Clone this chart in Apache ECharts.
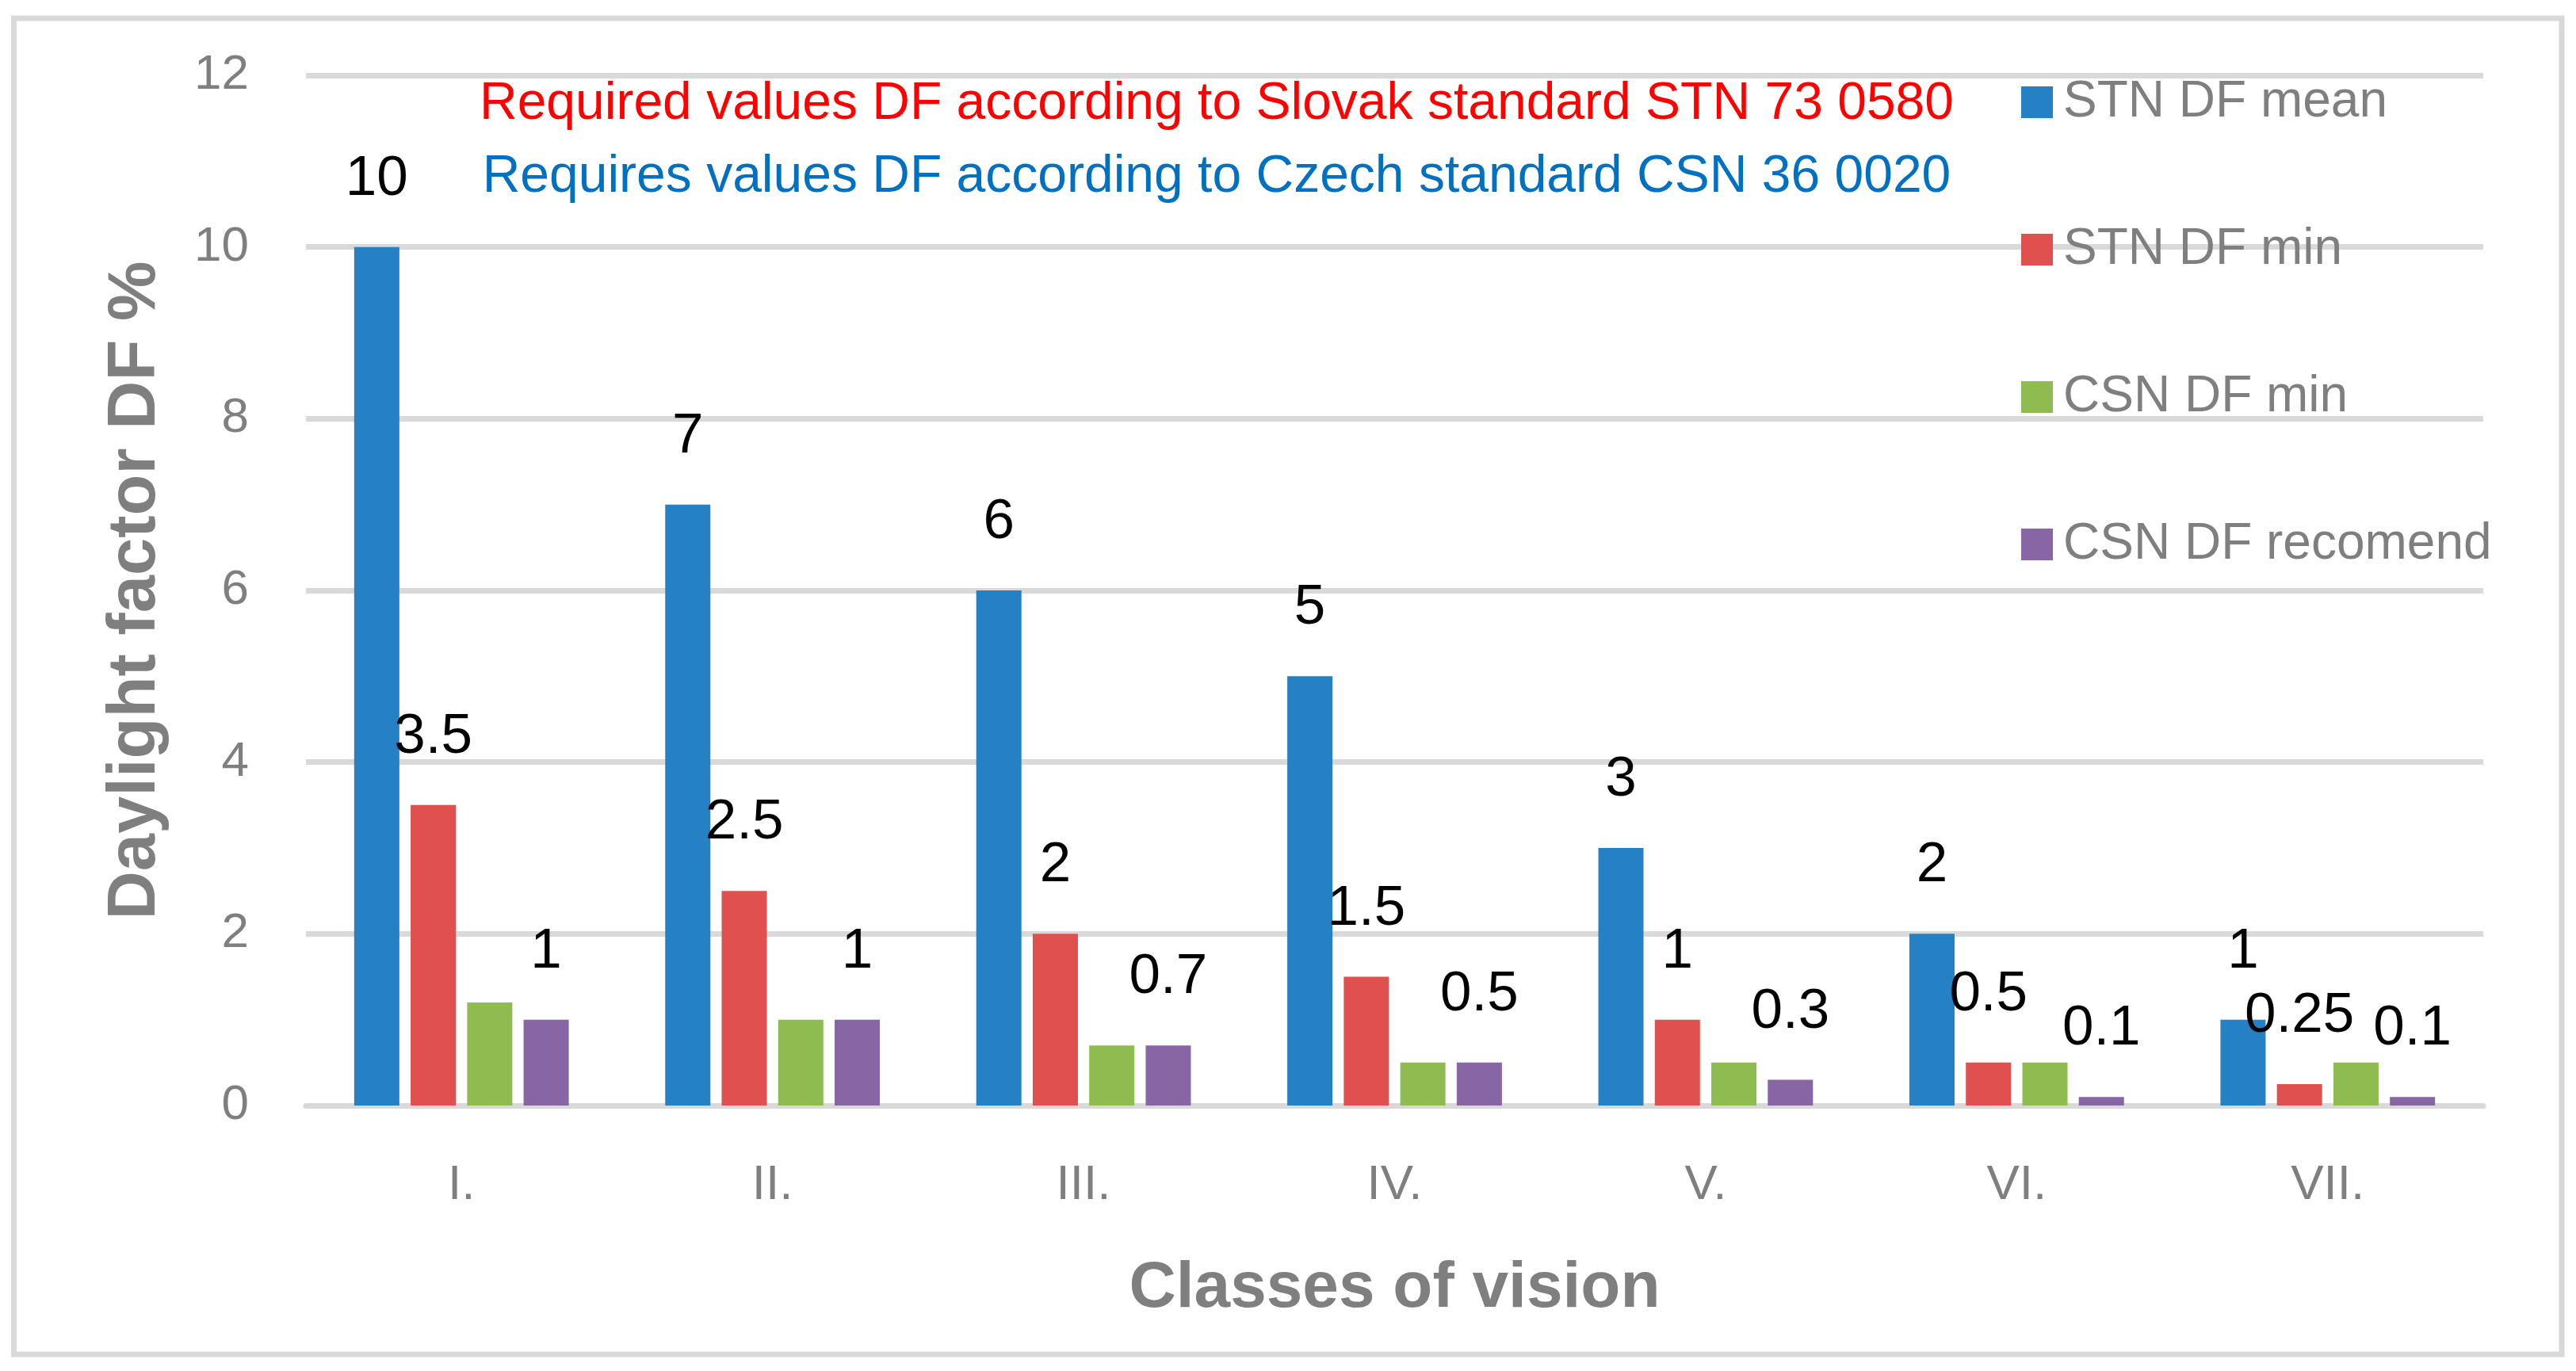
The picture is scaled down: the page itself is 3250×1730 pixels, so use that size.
<!DOCTYPE html>
<html>
<head>
<meta charset="utf-8">
<script src="https://cdn.jsdelivr.net/npm/echarts@6/dist/echarts.min.js"></script>
<style>
html,body{margin:0;padding:0;background:#fff;}
#chart{width:3250px;height:1730px;}
</style>
</head>
<body>
<div id="chart"></div>
<script>
const categories = ['I.', 'II.', 'III.', 'IV.', 'V.', 'VI.', 'VII.'];
const stnMean = [10, 7, 6, 5, 3, 2, 1];
const stnMin = [3.5, 2.5, 2, 1.5, 1, 0.5, 0.25];
const csnMin = [1.2, 1, 0.7, 0.5, 0.5, 0.5, 0.5];
const csnRecomend = [1, 1, 0.7, 0.5, 0.3, 0.1, 0.1];
const seriesNames = ['STN DF mean', 'STN DF min', 'CSN DF min', 'CSN DF recomend'];
const yTicks = {min: 0, max: 12, interval: 2};
const noteSlovak = 'Required values DF according to Slovak standard STN 73 0580';
const noteCzech = 'Requires values DF according to Czech standard CSN 36 0020';

const FONT = 'Liberation Sans';
const GRAY = '#7f7f7f';
const chart = echarts.init(document.getElementById('chart'), null, {renderer: 'canvas'});

const lbl = {show: true, position: 'top', distance: 50, color: '#000', fontSize: 71, fontFamily: FONT};

chart.setOption({
  backgroundColor: '#fff',
  animation: false,
  color: ['#2581c3', '#df504e', '#8fbc50', '#8865a4'],
  graphic: [{
    type: 'rect', shape: {x: 17.5, y: 23, width: 3214.5, height: 1686},
    style: {fill: 'none', stroke: '#d9d9d9', lineWidth: 7}, z: -1
  }],
  title: [
    {text: noteSlovak, left: 1530, top: 94, textAlign: 'center',
     textStyle: {color: '#ff0000', fontSize: 66, fontWeight: 'normal', fontFamily: FONT}},
    {text: noteCzech, left: 1530, top: 186, textAlign: 'center',
     textStyle: {color: '#0070c0', fontSize: 66, fontWeight: 'normal', fontFamily: FONT}}
  ],
  legend: {
    orient: 'vertical', left: 2545, top: 92, itemGap: 122,
    itemWidth: 40, itemHeight: 40, icon: 'rect',
    textStyle: {color: GRAY, fontSize: 64, fontFamily: FONT, padding: [0, 0, 0, 8]},
    data: seriesNames
  },
  grid: {left: 386, right: 117, top: 95, bottom: 335, containLabel: false},
  xAxis: {
    type: 'category', data: categories,
    axisLine: {lineStyle: {color: '#d9d9d9', width: 7}},
    axisTick: {show: false},
    axisLabel: {color: GRAY, fontSize: 62, fontFamily: FONT, margin: 70},
    name: 'Classes of vision', nameLocation: 'middle', nameGap: 190,
    nameTextStyle: {color: GRAY, fontSize: 82, fontWeight: 'bold', fontFamily: FONT}
  },
  yAxis: {
    type: 'value', min: yTicks.min, max: yTicks.max, interval: yTicks.interval,
    axisLine: {show: false}, axisTick: {show: false},
    splitLine: {lineStyle: {color: '#d9d9d9', width: 7}},
    axisLabel: {color: GRAY, fontSize: 62, fontFamily: FONT, margin: 72},
    name: 'Daylight factor DF %', nameLocation: 'middle', nameGap: 172, nameRotate: 90,
    nameTextStyle: {color: GRAY, fontSize: 85, fontWeight: 'bold', fontFamily: FONT}
  },
  series: [
    {name: seriesNames[0], type: 'bar', data: stnMean, barGap: '25%', barCategoryGap: '31%', label: lbl},
    {name: seriesNames[1], type: 'bar', data: stnMin, label: lbl},
    {name: seriesNames[2], type: 'bar', data: csnMin},
    {name: seriesNames[3], type: 'bar', data: csnRecomend, label: lbl}
  ]
});
</script>
</body>
</html>
